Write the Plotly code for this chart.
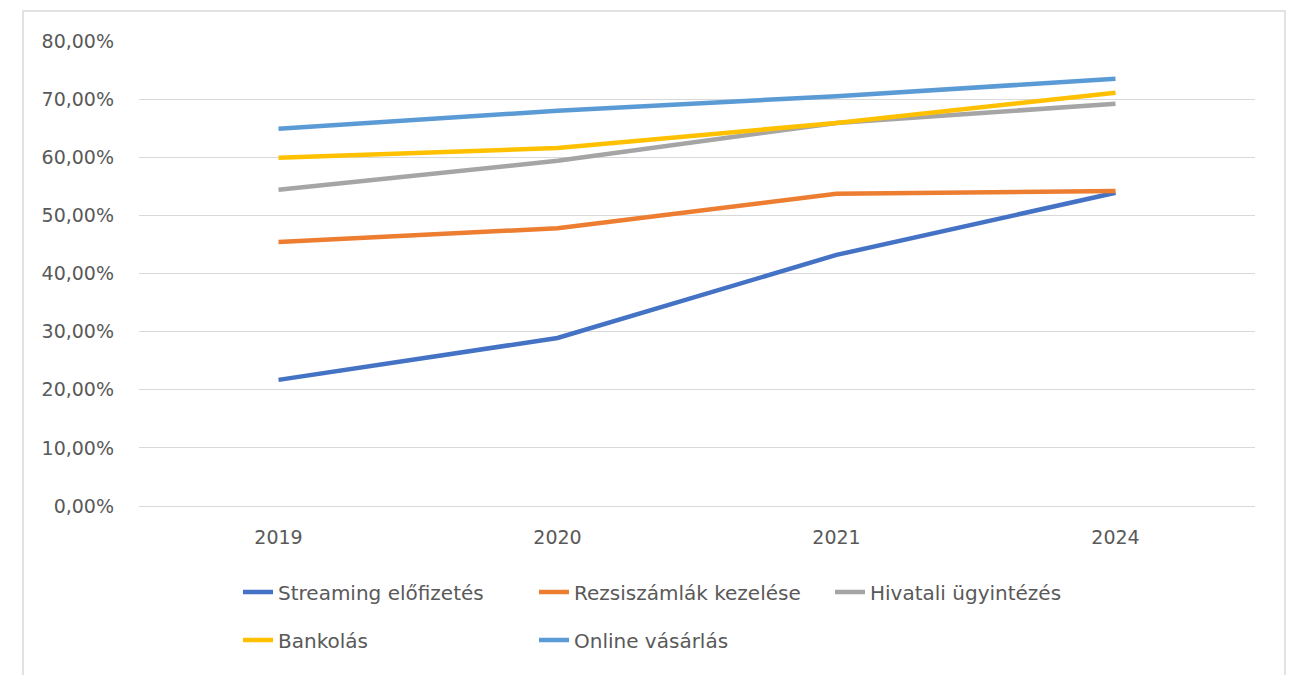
import plotly.graph_objects as go

years = ["2019", "2020", "2021", "2024"]
series_names = ["Streaming előfizetés", "Rezsiszámlák kezelése", "Hivatali ügyintézés",
                "Bankolás", "Online vásárlás"]
streaming = [0.217, 0.289, 0.432, 0.539]
rezsi = [0.454, 0.478, 0.537, 0.542]
hivatali = [0.544, 0.594, 0.659, 0.692]
bankolas = [0.599, 0.616, 0.659, 0.711]
online = [0.649, 0.680, 0.705, 0.735]
colors = ["#4472C4", "#ED7D31", "#A5A5A5", "#FFC000", "#5B9BD5"]
legend_rows = ["legend", "legend", "legend", "legend2", "legend2"]

# page offset of 8px body margin accounted for
W, H = 1288, 667
L, T = 131, 33
pw, ph = 1116, 465
R, B = W - L - pw, H - T - ph

FONT = "DejaVu Sans"
TXT = "#595959"

fig = go.Figure()
for name, vals, c, lg in zip(series_names, [streaming, rezsi, hivatali, bankolas, online],
                             colors, legend_rows):
    fig.add_trace(go.Scatter(x=years, y=vals, mode="lines", name=name, legend=lg,
                             line=dict(color=c, width=4.5)))

def px_x(xp):
    return (xp - 8 - L) / pw

def px_y(yp):
    return (T + ph - (yp - 8)) / ph

leg_common = dict(orientation="h", xanchor="left", yanchor="middle",
                  entrywidth=251, entrywidthmode="pixels", itemwidth=30,
                  font=dict(family=FONT, size=20, color=TXT), bgcolor="rgba(0,0,0,0)")

fig.update_layout(
    width=W, height=H,
    margin=dict(l=L, r=R, t=T, b=B),
    paper_bgcolor="white", plot_bgcolor="white",
    separators=", ",
    font=dict(family=FONT, color=TXT, size=19),
    showlegend=True,
    legend=dict(x=px_x(238), y=px_y(592), **leg_common),
    legend2=dict(x=px_x(238), y=px_y(640), **leg_common),
    xaxis=dict(type="category", range=[-0.5, 3.5], showgrid=False,
               showline=True, linecolor="#D9D9D9", linewidth=1,
               ticks="", ticklabelstandoff=14, tickfont=dict(family=FONT, size=19)),
    yaxis=dict(range=[0, 0.8], dtick=0.1, tick0=0, tickformat=".2%",
               showgrid=True, gridcolor="#D9D9D9", gridwidth=1,
               zeroline=False, showline=False, ticks="",
               ticklabelstandoff=24, tickfont=dict(family=FONT, size=19)),
    shapes=[dict(type="rect", xref="paper", yref="paper",
                 x0=px_x(23), x1=px_x(1285),
                 y0=px_y(760), y1=px_y(11),
                 line=dict(color="#D9D9D9", width=1.5), layer="below")],
)

fig.write_html("out.html")
